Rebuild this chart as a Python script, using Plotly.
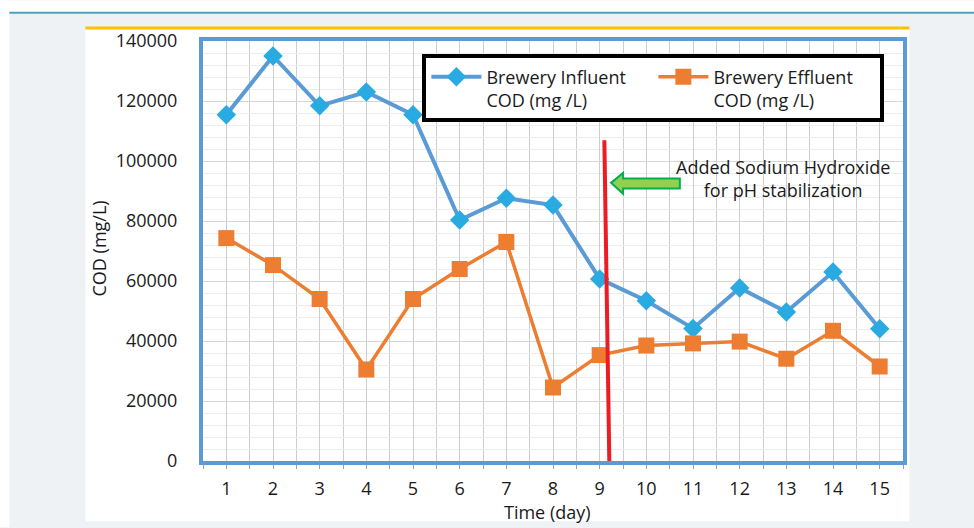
import plotly.graph_objects as go

days = list(range(1, 16))
influent = [115400, 135000, 118400, 123000, 115400, 80300, 87600, 85300,
            60700, 53400, 44200, 57700, 49700, 63000, 44100]
effluent = [74300, 65300, 54000, 30500, 54000, 64000, 73000, 24500,
            35300, 38500, 39200, 39800, 34100, 43400, 31500]
y_ticks = [0, 20000, 40000, 60000, 80000, 100000, 120000, 140000]
influent_name = "Brewery Influent<br>COD (mg /L)"
effluent_name = "Brewery Effluent<br>COD (mg /L)"
note_text = "Added Sodium Hydroxide<br>for pH stabilization"

W, H = 974, 528
PL, PR, PT, PB = 203.4, 902.6, 40.5, 461.5
XMIN, XMAX, YMAX = 0.5, 15.5, 140000


def pxp(px):
    return (px - PL) / (PR - PL)


def pyp(py):
    return (PB - py) / (PB - PT)


def dx(px):
    return XMIN + (px - PL) / (PR - PL) * (XMAX - XMIN)


def dy(py):
    return (PB - py) / (PB - PT) * YMAX


FONT = "Open Sans"
FS = 18
TXT = "#1a1a1a"
BLUE_LINE = "#5B9BD5"
BLUE_MARK = "#29ABE2"
ORANGE = "#ED7D31"

fig = go.Figure()
fig.add_trace(go.Scatter(
    x=days, y=influent, name=influent_name, mode="lines+markers",
    line=dict(color=BLUE_LINE, width=4),
    marker=dict(symbol="diamond", size=15, color=BLUE_MARK),
))
fig.add_trace(go.Scatter(
    x=days, y=effluent, name=effluent_name, mode="lines+markers",
    line=dict(color=ORANGE, width=3.5),
    marker=dict(symbol="square", size=16, color=ORANGE),
))

shapes = []
# page background pieces
shapes.append(dict(type="rect", xref="paper", yref="paper", layer="below",
                   x0=pxp(0), x1=pxp(W), y0=pyp(0), y1=pyp(11.5),
                   fillcolor="white", line=dict(width=0)))
shapes.append(dict(type="rect", xref="paper", yref="paper", layer="below",
                   x0=pxp(0), x1=pxp(10), y0=pyp(0), y1=pyp(H),
                   fillcolor="white", line=dict(width=0)))
shapes.append(dict(type="line", xref="paper", yref="paper", layer="below",
                   x0=pxp(10), x1=pxp(W), y0=pyp(12.3), y1=pyp(12.3),
                   line=dict(color="#4BA6B6", width=2)))
shapes.append(dict(type="rect", xref="paper", yref="paper", layer="below",
                   x0=pxp(86), x1=pxp(909), y0=pyp(27), y1=pyp(522),
                   fillcolor="white", line=dict(width=0)))
shapes.append(dict(type="line", xref="paper", yref="paper", layer="below",
                   x0=pxp(86), x1=pxp(909), y0=pyp(27.5), y1=pyp(27.5),
                   line=dict(color="#FFC000", width=3)))
# red marker line
shapes.append(dict(type="line", xref="x", yref="y", layer="above",
                   x0=dx(604.3), y0=dy(140), x1=dx(609.3), y1=dy(465),
                   line=dict(color="#ED1C24", width=4)))
# green block arrow
pts = [(611, 182.7), (623, 172.7), (623, 178.3), (679.7, 178.3),
       (679.7, 188.3), (623, 188.3), (623, 193.5)]
path = "M " + " L ".join(f"{dx(a):.4f},{dy(b):.1f}" for a, b in pts) + " Z"
shapes.append(dict(type="path", xref="x", yref="y", layer="above", path=path,
                   fillcolor="#92D050", line=dict(color="#00B050", width=2)))

annotations = [
    dict(text=note_text, xref="paper", yref="paper", x=pxp(783), y=pyp(178.5),
         xanchor="center", yanchor="middle", showarrow=False, align="center",
         font=dict(family=FONT, size=FS, color=TXT)),
    dict(text="COD (mg/L)", xref="paper", yref="paper", x=pxp(100), y=pyp(248),
         xanchor="center", yanchor="middle", showarrow=False, textangle=-90,
         font=dict(family=FONT, size=FS, color=TXT)),
    dict(text="Time (day)", xref="paper", yref="paper", x=pxp(548), y=pyp(512.5),
         xanchor="center", yanchor="middle", showarrow=False,
         font=dict(family=FONT, size=FS, color=TXT)),
]

fig.update_layout(
    width=W, height=H,
    margin=dict(l=PL, r=W - PR, t=PT, b=H - PB, pad=0),
    paper_bgcolor="#EEF2F5", plot_bgcolor="white",
    font=dict(family=FONT, size=FS, color=TXT),
    shapes=shapes, annotations=annotations,
    legend=dict(
        orientation="h", x=pxp(884), y=pyp(54), xanchor="right", yanchor="top",
        bgcolor="white", bordercolor="black", borderwidth=4,
        font=dict(family=FONT, size=FS, color=TXT),
        itemwidth=50, valign="top", tracegroupgap=0,
        entrywidth=162, entrywidthmode="pixels",
    ),
    xaxis=dict(
        range=[XMIN, XMAX], tickmode="array", tickvals=days,
        ticktext=[str(d) for d in days],
        showgrid=True, gridcolor="#CDCDCD", gridwidth=1,
        ticks="outside", ticklen=4, tickcolor="#A0A0A0",
        showline=True, mirror=True, linecolor=BLUE_LINE, linewidth=4,
        zeroline=False, ticklabelstandoff=4,
        minor=dict(tickmode="linear", tick0=0.5, dtick=1, showgrid=True,
                   gridcolor="#CDCDCD", gridwidth=1, ticks="outside",
                   ticklen=4, tickcolor="#A0A0A0"),
        tickfont=dict(family=FONT, size=FS, color=TXT),
    ),
    yaxis=dict(
        range=[0, YMAX], tickmode="array", tickvals=y_ticks,
        ticktext=[str(v) for v in y_ticks],
        showgrid=True, gridcolor="#D6D6D6", gridwidth=1,
        showline=True, mirror=True, linecolor=BLUE_LINE, linewidth=4,
        zeroline=False, ticks="", ticklabelstandoff=18,
        minor=dict(tickmode="linear", tick0=0, dtick=4000, showgrid=True,
                   gridcolor="#EDEDED", gridwidth=1),
        tickfont=dict(family=FONT, size=FS, color=TXT),
    ),
    showlegend=True,
)

fig.write_html("out.html")
